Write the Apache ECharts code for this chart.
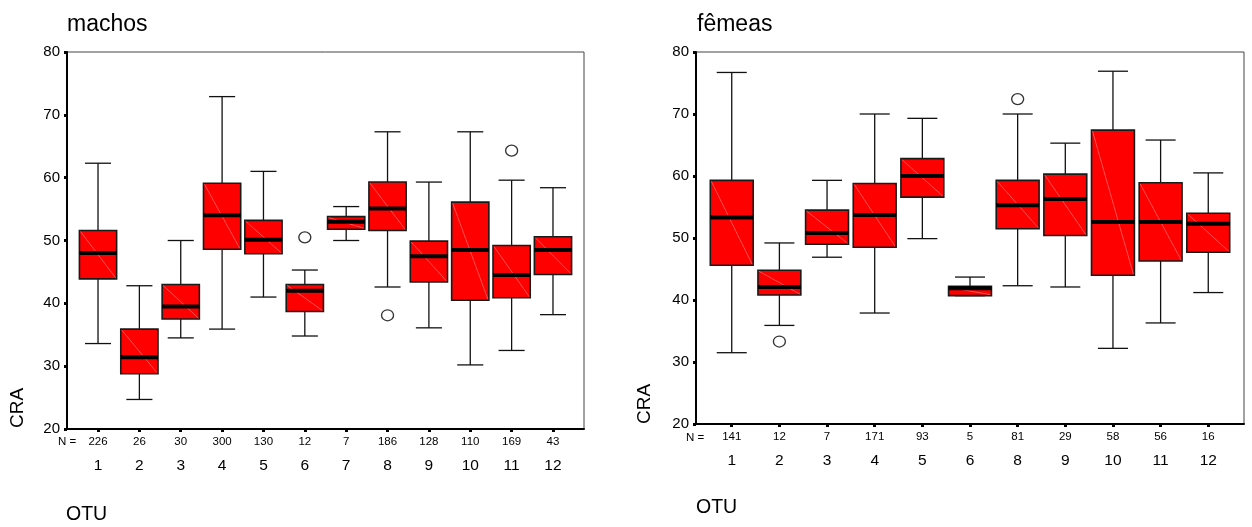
<!DOCTYPE html>
<html>
<head>
<meta charset="utf-8">
<script src="https://cdn.jsdelivr.net/npm/echarts@6/dist/echarts.min.js"></script>
<style>
  html, body { margin: 0; padding: 0; background: #fff; }
  #chart { width: 1252px; height: 527px; }
</style>
</head>
<body>
<div id="chart"></div>
<script>
// machos (males)
const machosOtu = ['1', '2', '3', '4', '5', '6', '7', '8', '9', '10', '11', '12'];
const machosN = [226, 26, 30, 300, 130, 12, 7, 186, 128, 110, 169, 43];
// [min, Q1, median, Q3, max]
const machosBox = [
  [33.6, 43.9, 48.0, 51.6, 62.3],
  [24.7, 28.8, 31.4, 35.9, 42.8],
  [34.5, 37.5, 39.5, 43.0, 50.0],
  [35.9, 48.6, 54.0, 59.1, 72.9],
  [41.0, 47.9, 50.1, 53.2, 61.0],
  [34.8, 38.7, 42.0, 43.0, 45.3],
  [50.0, 51.8, 53.0, 53.8, 55.4],
  [42.6, 51.6, 55.1, 59.3, 67.3],
  [36.1, 43.4, 47.5, 49.9, 59.3],
  [30.2, 40.5, 48.5, 56.1, 67.3],
  [32.5, 40.9, 44.5, 49.2, 59.6],
  [38.2, 44.6, 48.5, 50.6, 58.4]
];
const machosOutliers = [['6', 50.5], ['8', 38.1], ['11', 64.3]];

// fêmeas (females) - no OTU 7
const femeasOtu = ['1', '2', '3', '4', '5', '6', '8', '9', '10', '11', '12'];
const femeasN = [141, 12, 7, 171, 93, 5, 81, 29, 58, 56, 16];
const femeasBox = [
  [31.5, 45.6, 53.3, 59.3, 76.7],
  [35.9, 40.8, 42.1, 44.8, 49.2],
  [46.9, 49.0, 50.8, 54.5, 59.3],
  [37.9, 48.5, 53.7, 58.8, 70.0],
  [49.9, 56.6, 60.0, 62.8, 69.3],
  [40.7, 40.7, 41.9, 42.2, 43.7],
  [42.3, 51.5, 55.3, 59.3, 70.0],
  [42.1, 50.4, 56.3, 60.3, 65.3],
  [32.2, 44.0, 52.6, 67.4, 76.9],
  [36.3, 46.3, 52.6, 58.9, 65.8],
  [41.2, 47.7, 52.3, 54.0, 60.5]
];
const femeasOutliers = [['2', 33.3], ['8', 72.4]];

const FONT = '"Liberation Sans", Arial, Helvetica, sans-serif';

function renderBox(params, api) {
  const x = api.value(0);
  const pMin = api.coord([x, api.value(1)]);
  const pQ1 = api.coord([x, api.value(2)]);
  const pMed = api.coord([x, api.value(3)]);
  const pQ3 = api.coord([x, api.value(4)]);
  const pMax = api.coord([x, api.value(5)]);
  const band = api.size([1, 0])[0];
  const hw = band * 0.45;   // half box width
  const cw = band * 0.315;  // half whisker cap
  const cx = pMin[0];
  const ln = { stroke: '#111', lineWidth: 1.3 };
  return {
    type: 'group',
    children: [
      { type: 'line', shape: { x1: cx, y1: pMin[1], x2: cx, y2: pQ1[1] }, style: ln },
      { type: 'line', shape: { x1: cx, y1: pQ3[1], x2: cx, y2: pMax[1] }, style: ln },
      { type: 'line', shape: { x1: cx - cw, y1: pMin[1], x2: cx + cw, y2: pMin[1] }, style: ln },
      { type: 'line', shape: { x1: cx - cw, y1: pMax[1], x2: cx + cw, y2: pMax[1] }, style: ln },
      { type: 'rect', shape: { x: cx - hw, y: pQ3[1], width: 2 * hw, height: pQ1[1] - pQ3[1] },
        style: { fill: '#ff0000', stroke: '#1a1a1a', lineWidth: 1.6 } },
      { type: 'line', shape: { x1: cx - hw + 1, y1: pQ3[1] + 1, x2: cx + hw - 1, y2: pQ1[1] - 1 },
        style: { stroke: '#ffa0a0', lineWidth: 0.5 } },
      { type: 'line', shape: { x1: cx - hw, y1: pMed[1], x2: cx + hw, y2: pMed[1] },
        style: { stroke: '#000', lineWidth: 4 } }
    ]
  };
}

function xAxisFor(gridIndex, cats, counts) {
  const ticks = cats.map((_, i) => i + 1);
  return {
    type: 'value', gridIndex: gridIndex,
    min: 0.25, max: cats.length + 0.75,
    splitLine: { show: false },
    axisLine: { lineStyle: { color: '#000', width: 2 } },
    axisTick: { customValues: ticks, length: 3, lineStyle: { color: '#000', width: 3 } },
    axisLabel: {
      customValues: ticks,
      margin: 5,
      color: '#000',
      fontFamily: FONT,
      formatter: function (v) {
        const i = Math.round(v) - 1;
        return '{n|' + counts[i] + '}\n{c|' + cats[i] + '}';
      },
      rich: {
        n: { fontSize: 11.5, lineHeight: 16, fontFamily: FONT, color: '#000' },
        c: { fontSize: 15.5, lineHeight: 32, fontFamily: FONT, color: '#000' }
      }
    }
  };
}

function yAxisFor(gridIndex) {
  return {
    type: 'value', gridIndex: gridIndex,
    min: 20, max: 80, interval: 10,
    splitLine: { show: false },
    axisLine: { show: true, lineStyle: { color: '#000', width: 2 } },
    axisTick: { show: true, length: 3, lineStyle: { color: '#000', width: 3 } },
    axisLabel: { fontSize: 15, color: '#000', fontFamily: FONT, margin: 7 }
  };
}

const chart = echarts.init(document.getElementById('chart'), null, { renderer: 'canvas' });

const option = {
  backgroundColor: '#fff',
  animation: false,
  title: [
    { text: 'machos', left: 62, top: 8, textStyle: { fontSize: 23, fontWeight: 'normal', color: '#000', fontFamily: FONT } },
    { text: 'fêmeas', left: 692, top: 8, textStyle: { fontSize: 23, fontWeight: 'normal', color: '#000', fontFamily: FONT } }
  ],
  grid: [
    { left: 67, top: 52, width: 517, height: 377, show: true, borderColor: '#444', borderWidth: 1 },
    { left: 696, top: 52, width: 548, height: 372, show: true, borderColor: '#444', borderWidth: 1 }
  ],
  xAxis: [xAxisFor(0, machosOtu, machosN), xAxisFor(1, femeasOtu, femeasN)],
  yAxis: [yAxisFor(0), yAxisFor(1)],
  graphic: [
    { type: 'text', x: 18, y: 408, rotation: Math.PI / 2,
      style: { text: 'CRA', fontSize: 19, fontFamily: FONT, fill: '#000', align: 'center', verticalAlign: 'middle' } },
    { type: 'text', x: 645, y: 404, rotation: Math.PI / 2,
      style: { text: 'CRA', fontSize: 19, fontFamily: FONT, fill: '#000', align: 'center', verticalAlign: 'middle' } },
    { type: 'text', x: 66, y: 515,
      style: { text: 'OTU', fontSize: 19.5, fontFamily: FONT, fill: '#000', align: 'left', verticalAlign: 'middle' } },
    { type: 'text', x: 696, y: 508,
      style: { text: 'OTU', fontSize: 19.5, fontFamily: FONT, fill: '#000', align: 'left', verticalAlign: 'middle' } },
    { type: 'text', x: 67, y: 442,
      style: { text: 'N =', fontSize: 11.5, fontFamily: FONT, fill: '#000', align: 'center', verticalAlign: 'middle' } },
    { type: 'text', x: 695, y: 438,
      style: { text: 'N =', fontSize: 11.5, fontFamily: FONT, fill: '#000', align: 'center', verticalAlign: 'middle' } }
  ],
  series: [
    {
      type: 'custom', xAxisIndex: 0, yAxisIndex: 0,
      renderItem: renderBox,
      encode: { x: 0, y: [1, 2, 3, 4, 5] },
      data: machosBox.map((b, i) => [i + 1].concat(b))
    },
    {
      type: 'scatter', xAxisIndex: 0, yAxisIndex: 0,
      symbol: 'circle', symbolSize: [12, 11],
      itemStyle: { color: 'rgba(0,0,0,0)', borderColor: '#000', borderWidth: 1.3 },
      data: machosOutliers.map(o => [machosOtu.indexOf(o[0]) + 1, o[1]])
    },
    {
      type: 'custom', xAxisIndex: 1, yAxisIndex: 1,
      renderItem: renderBox,
      encode: { x: 0, y: [1, 2, 3, 4, 5] },
      data: femeasBox.map((b, i) => [i + 1].concat(b))
    },
    {
      type: 'scatter', xAxisIndex: 1, yAxisIndex: 1,
      symbol: 'circle', symbolSize: [12, 11],
      itemStyle: { color: 'rgba(0,0,0,0)', borderColor: '#000', borderWidth: 1.3 },
      data: femeasOutliers.map(o => [femeasOtu.indexOf(o[0]) + 1, o[1]])
    }
  ]
};

chart.setOption(option);
</script>
</body>
</html>
